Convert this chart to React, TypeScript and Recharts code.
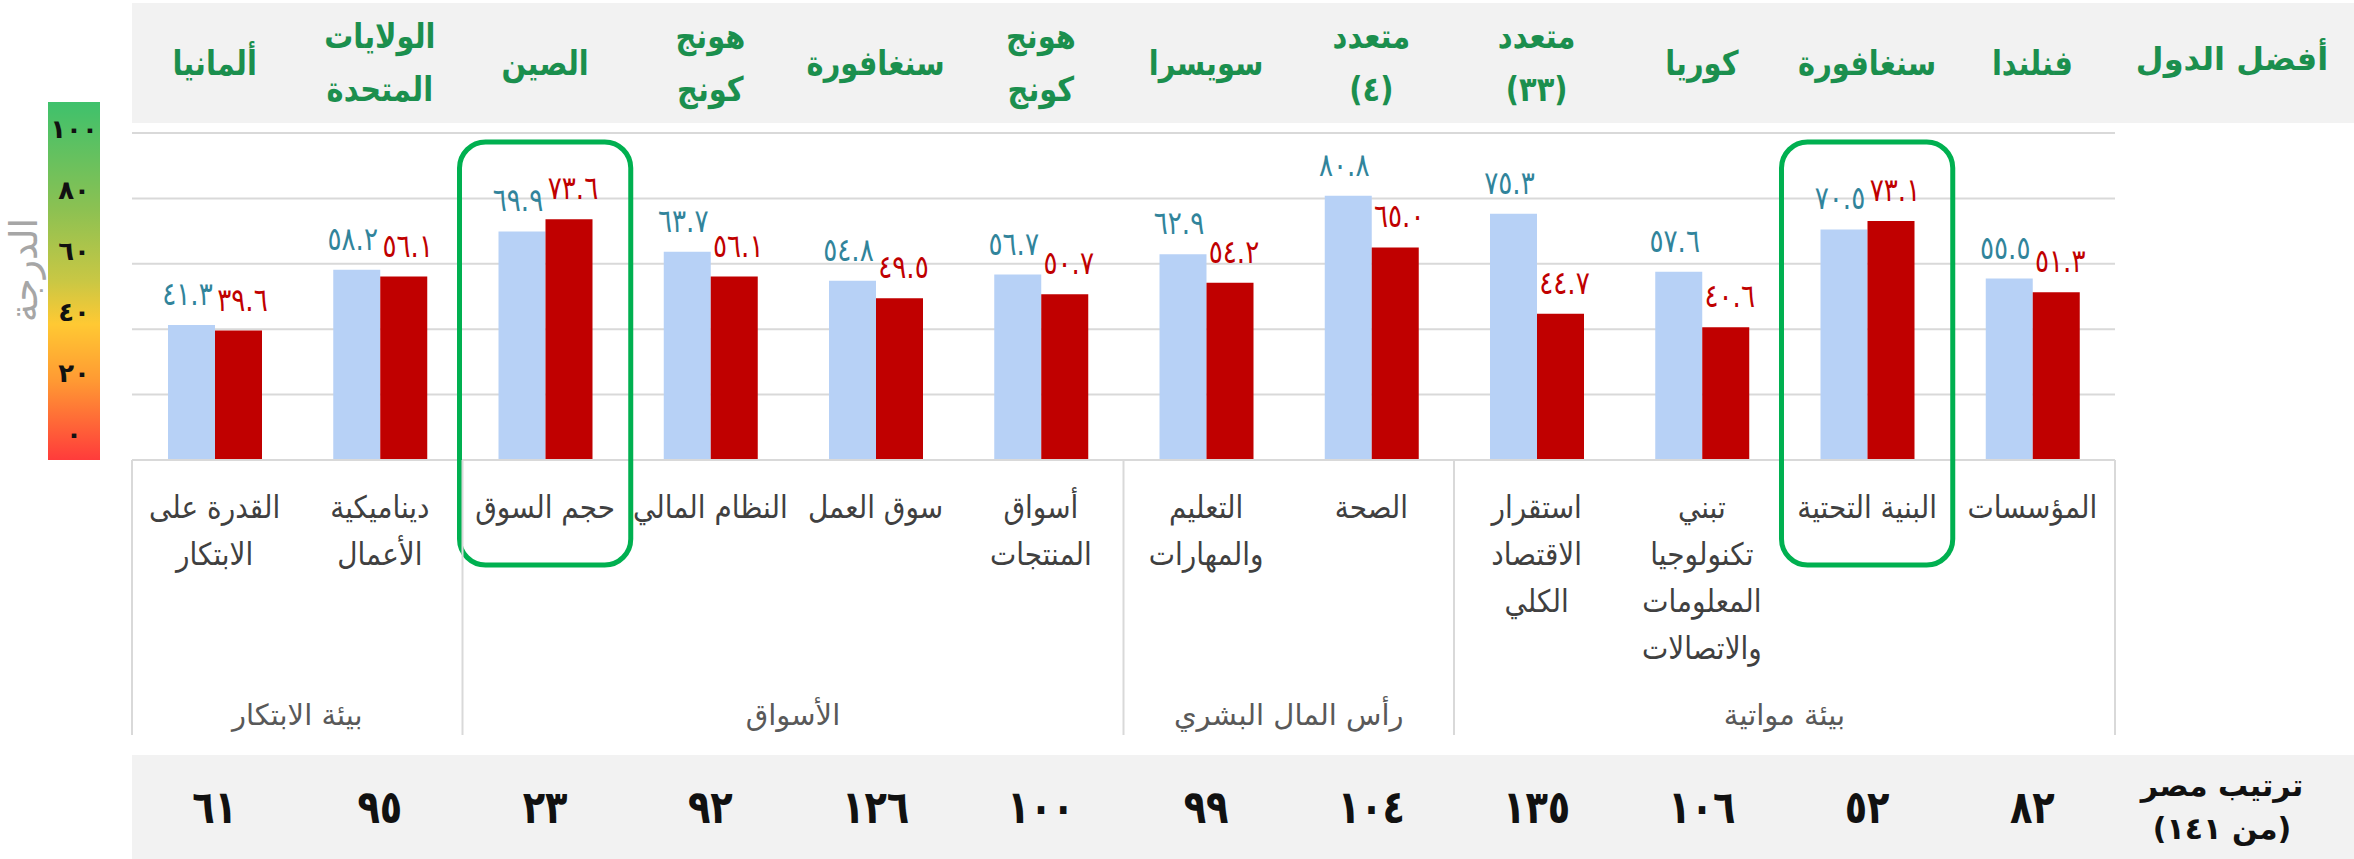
import React from 'react';
import { BarChart, Bar, XAxis, YAxis, CartesianGrid, LabelList } from 'recharts';

// categories in reading order (right to left on the chart)
const categories = [
    'المؤسسات',
    'البنية التحتية',
    'تبني\nتكنولوجيا\nالمعلومات\nوالاتصالات',
    'استقرار\nالاقتصاد\nالكلي',
    'الصحة',
    'التعليم\nوالمهارات',
    'أسواق\nالمنتجات',
    'سوق العمل',
    'النظام المالي',
    'حجم السوق',
    'ديناميكية\nالأعمال',
    'القدرة على\nالابتكار',
];
const benchmarkScores = [55.5, 70.5, 57.6, 75.3, 80.8, 62.9, 56.7, 54.8, 63.7, 69.9, 58.2, 41.3];
const egyptScores = [51.3, 73.1, 40.6, 44.7, 65.0, 54.2, 50.7, 49.5, 56.1, 73.6, 56.1, 39.6];
const bestCountries = [
    'فنلندا', 'سنغافورة', 'كوريا', 'متعدد\n(٣٣)', 'متعدد\n(٤)', 'سويسرا',
    'هونج\nكونج', 'سنغافورة', 'هونج\nكونج', 'الصين', 'الولايات\nالمتحدة', 'ألمانيا',
];
const egyptRanks = [82, 52, 106, 135, 104, 99, 100, 126, 92, 23, 95, 61];
const groupNames = ['بيئة مواتية', 'رأس المال البشري', 'الأسواق', 'بيئة الابتكار'];
const groupSizes = [4, 2, 4, 2];
const highlighted = ['البنية التحتية', 'حجم السوق'];
const scaleTicks = [100, 80, 60, 40, 20, 0];

const data = categories.map((name, i) => ({
    name,
    benchmark: benchmarkScores[i],
    egypt: egyptScores[i],
}));

const W = 2354;
const H = 859;
const MARGIN = { top: 0, right: 239, bottom: 0, left: 132 };
const TOP_AXIS_H = 133;
const BOTTOM_AXIS_H = 399;
const BAND = (W - MARGIN.left - MARGIN.right) / categories.length;
const FONT = '"DejaVu Sans", sans-serif';

const groupStarts = groupSizes.map((_, g) => groupSizes.slice(0, g).reduce((a, b) => a + b, 0));

function toArabic(s: string) {
    return s.replace(/\d/g, (d) => '٠١٢٣٤٥٦٧٨٩'[Number(d)]);
}

function BestTick(props: any) {
    const { x, payload } = props;
    const i = categories.indexOf(payload.value);
    const lines = bestCountries[i].split('\n');
    return (
        <g>
            {lines.map((l: string, k: number) => (
                <text key={k} transform={`translate(${x},${63 + (k - (lines.length - 1) / 2) * 53}) scale(0.85,1)`}
                    textAnchor="middle" dominantBaseline="central" fontSize={34} fontWeight="bold"
                    fill="#1b8f4e" fontFamily={FONT}>
                    {l}
                </text>
            ))}
        </g>
    );
}

function CategoryTick(props: any) {
    const { x, y, payload } = props;
    const i = categories.indexOf(payload.value);
    const lines = String(payload.value).split('\n');
    const g = groupStarts.indexOf(i);
    const isLast = i === categories.length - 1;
    const hl = highlighted.includes(payload.value);
    return (
        <g>
            {lines.map((l: string, k: number) => (
                <text key={k} transform={`translate(${x},${y + 47 + k * 47}) scale(0.9,1)`} textAnchor="middle"
                    dominantBaseline="central" fontSize={31} fill="#404040" fontFamily={FONT}>
                    {l}
                </text>
            ))}
            {g >= 0 && (
                <>
                    <line x1={x + BAND / 2} x2={x + BAND / 2} y1={y} y2={y + 275} stroke="#d9d9d9" strokeWidth={2} />
                    <text x={x - ((groupSizes[g] - 1) / 2) * BAND} y={y + 255} textAnchor="middle"
                        dominantBaseline="central" fontSize={29} fill="#595959" fontFamily={FONT}>
                        {groupNames[g]}
                    </text>
                </>
            )}
            {isLast && (
                <line x1={x - BAND / 2} x2={x - BAND / 2} y1={y} y2={y + 275} stroke="#d9d9d9" strokeWidth={2} />
            )}
            <text transform={`translate(${x},${y + 347}) scale(0.8,1)`} textAnchor="middle" dominantBaseline="central"
                fontSize={46} fontWeight="bold" fill="#111" fontFamily={FONT}>
                {toArabic(String(egyptRanks[i]))}
            </text>
            {hl && (
                <rect x={x - BAND / 2 - 3} y={y - 318} width={BAND + 6} height={423} rx={26}
                    fill="none" stroke="#00b050" strokeWidth={5} />
            )}
        </g>
    );
}

// blue labels lean left, red labels lean right, so neighbours never touch
function makeLabel(color: string, shift: number) {
    return (props: any) => {
        const { x, y, width, value } = props;
        return (
            <text transform={`translate(${x + width / 2 + shift},${y - 20}) scale(0.82,1)`} textAnchor="middle"
                fontSize={32} fill={color} fontFamily={FONT}>
                {toArabic(Number(value).toFixed(1))}
            </text>
        );
    };
}

export default function App() {
    return (
        <div style={{ position: 'absolute', left: 0, top: 0, width: W, height: H, background: '#fff', fontFamily: FONT }}>
            {/* header and footer bands */}
            <div style={{ position: 'absolute', left: 132, top: 3, width: W - 132, height: 120, background: '#f2f2f2' }} />
            <div style={{ position: 'absolute', left: 132, top: 755, width: W - 132, height: H - 755, background: '#f2f2f2' }} />
            <div style={{ position: 'absolute', left: 2132, top: 40, width: 200, textAlign: 'center', fontSize: 32, fontWeight: 'bold', color: '#1b8f4e' }} dir="rtl">
                أفضل الدول
            </div>
            <div style={{ position: 'absolute', left: 2132, top: 764, width: 180, textAlign: 'center', fontSize: 30, fontWeight: 'bold', color: '#111', lineHeight: '43px' }} dir="rtl">
                ترتيب مصر
                <br />
                (من ١٤١)
            </div>

            {/* colour scale */}
            <div style={{
                position: 'absolute', left: 48, top: 102, width: 52, height: 358,
                background: 'linear-gradient(to bottom, #3ec16c 0%, #8cc152 30%, #c9c744 50%, #ffc933 62%, #ff9933 78%, #ff3b3b 100%)',
            }}>
                {scaleTicks.map((t, k) => (
                    <div key={t} style={{ position: 'absolute', left: 0, width: 52, top: 12 + k * 61, textAlign: 'center', fontSize: 26, fontWeight: 'bold', color: '#111', lineHeight: '30px' }}>
                        {toArabic(String(t))}
                    </div>
                ))}
            </div>
            <div style={{ position: 'absolute', left: 24 - 80, top: 270 - 24, width: 160, height: 48, textAlign: 'center', fontSize: 38, color: '#a6a6a6', lineHeight: '48px', transform: 'rotate(-90deg)' }}>
                الدرجة
            </div>

            <div style={{ position: 'absolute', left: 0, top: 0 }}>
                <BarChart width={W} height={H} data={data} margin={MARGIN} barGap={0}>
                    <CartesianGrid xAxisId="cat" vertical={false} stroke="#d9d9d9" strokeWidth={2} />
                    <XAxis xAxisId="top" orientation="top" dataKey="name" reversed height={TOP_AXIS_H}
                        tickLine={false} axisLine={false} tickSize={0} tickMargin={0} interval={0} tick={<BestTick />} />
                    <XAxis xAxisId="cat" dataKey="name" reversed height={BOTTOM_AXIS_H}
                        tickLine={false} axisLine={{ stroke: '#d9d9d9', strokeWidth: 2 }} tickSize={0} tickMargin={0}
                        interval={0} tick={<CategoryTick />} />
                    <YAxis hide domain={[0, 100]} ticks={[0, 20, 40, 60, 80, 100]} />
                    <Bar xAxisId="cat" dataKey="benchmark" fill="#b7d1f6" barSize={47} isAnimationActive={false}>
                        <LabelList dataKey="benchmark" content={makeLabel('#31849b', -4)} />
                    </Bar>
                    <Bar xAxisId="cat" dataKey="egypt" fill="#c00000" barSize={47} isAnimationActive={false}>
                        <LabelList dataKey="egypt" content={makeLabel('#c00000', 4)} />
                    </Bar>
                </BarChart>
            </div>
        </div>
    );
}
